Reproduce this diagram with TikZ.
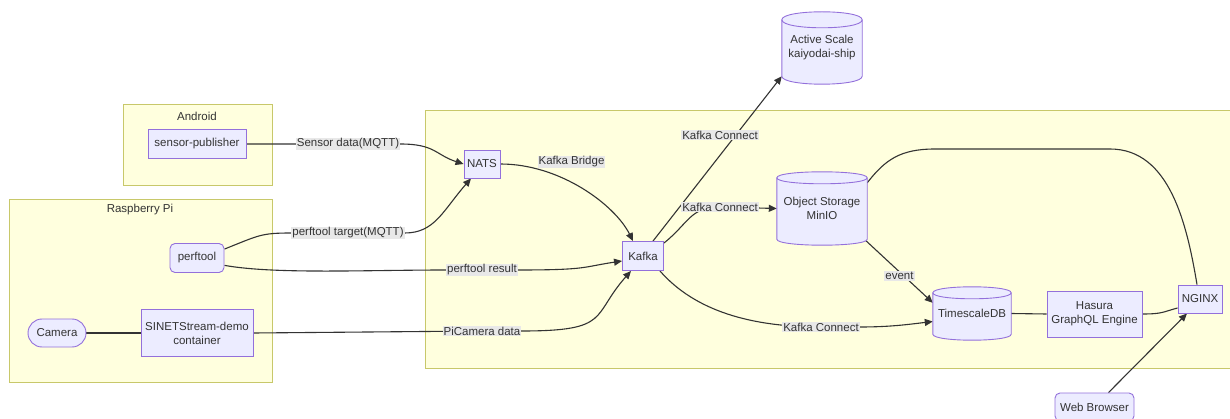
\documentclass[tikz,border=0pt]{standalone}
\usepackage{fontspec}
\setmainfont{Liberation Sans}
\usetikzlibrary{arrows.meta,calc}
\definecolor{nodefill}{HTML}{ECECFF}
\definecolor{nodeline}{HTML}{9370DB}
\definecolor{clfill}{HTML}{FFFFDE}
\definecolor{clline}{HTML}{C8C86A}
\definecolor{edgecol}{HTML}{333333}
\definecolor{lblbg}{HTML}{E8E8E8}
\definecolor{txt}{HTML}{333333}
\pgfdeclarelayer{bg}\pgfdeclarelayer{edges}\pgfdeclarelayer{cyl}
\pgfsetlayers{bg,edges,cyl,main}
\newcommand\cylshape[2]{%
  \path[cylbody] ($(#1.north west)+(0,#2)$) -- ($(#1.south west)+(0,-#2)$)
    .. controls +(0,{1.333*#2}) and +(0,{1.333*#2}) .. ($(#1.south east)+(0,-#2)$)
    -- ($(#1.north east)+(0,#2)$)
    .. controls +(0,{-1.333*#2}) and +(0,{-1.333*#2}) .. ($(#1.north west)+(0,#2)$) -- cycle;
  \path[cylline] ($(#1.north west)+(0,#2)$)
    .. controls +(0,{1.333*#2}) and +(0,{1.333*#2}) .. ($(#1.north east)+(0,#2)$);
}
\begin{document}
\begin{tikzpicture}[x=1pt,y=-1pt,
  every node/.style={font=\fontsize{11.5}{14}\selectfont, text=txt},
  box/.style={draw=nodeline, fill=nodefill, line width=0.9pt, inner sep=2pt, align=center},
  rbox/.style={box, rounded corners=5pt},
  pill/.style={box, rounded corners=14pt},
  cylnode/.style={inner sep=0pt, align=center},
  cylbody/.style={draw=nodeline, fill=nodefill, line width=0.9pt},
  cylline/.style={draw=nodeline, line width=0.9pt},
  cluster/.style={draw=clline, fill=clfill, line width=0.9pt},
  lbl/.style={fill=lblbg, inner sep=1pt},
  arr/.style={draw=edgecol, line width=1.1pt, -{Triangle[length=8pt,width=7pt]}},
  link/.style={draw=edgecol, line width=1.1pt},
]
\useasboundingbox (0,0) rectangle (1230,419);
\begin{pgfonlayer}{bg}
\path[cluster] (123,104) rectangle (272,185);
\path[cluster] (9,199) rectangle (272,382);
\path[cluster] (425,110) rectangle (1236,368);
\end{pgfonlayer}
\node (tandroid) at (197,116) {Android};
\node (trpi) at (140,210) {Raspberry Pi};

\node[box, minimum width=98pt, minimum height=29pt] (sp) at (197,144) {sensor-publisher};
\node[rbox, minimum width=54pt, minimum height=29pt] (perf) at (197,258) {perftool};
\node[pill, minimum width=58pt, minimum height=28pt] (cam) at (57,333) {Camera};
\node[box, minimum width=112pt, minimum height=47pt] (sinet) at (197,333) {SINETStream-demo\\container};
\node[box, minimum width=36pt, minimum height=28pt] (nats) at (482,164) {NATS};
\node[box, minimum width=41pt, minimum height=29pt] (kafka) at (643,256) {Kafka};
\node[cylnode, minimum width=80pt, minimum height=72pt] (as) at (822,48) {Active Scale\\kaiyodai-ship};
\node[cylnode, minimum width=90pt, minimum height=73pt] (minio) at (822,208.5) {Object Storage\\MinIO};
\node[cylnode, minimum width=78pt, minimum height=53pt] (tsdb) at (972,313.5) {TimescaleDB};
\node[box, minimum width=95pt, minimum height=46pt] (hasura) at (1094.5,314) {Hasura\\GraphQL Engine};
\node[box, minimum width=44pt, minimum height=28pt] (nginx) at (1200,299) {NGINX};
\node[rbox, minimum width=79pt, minimum height=28pt] (web) at (1094.5,407) {Web Browser};

\node[lbl] (l1) at (348,144) {Sensor data(MQTT)};
\node[lbl] (l2) at (348,233) {perftool target(MQTT)};
\node[lbl] (l3) at (482,270) {perftool result};
\node[lbl] (l4) at (482,331) {PiCamera data};
\node[lbl] (l5) at (571.5,162) {Kafka Bridge};
\node[lbl] (l6) at (720,135) {Kafka Connect};
\node[lbl] (l7) at (720,207) {Kafka Connect};
\node[lbl] (l8) at (821,327) {Kafka Connect};
\node[lbl] (l9) at (899.5,276) {event};

\begin{pgfonlayer}{cyl}
\cylshape{as}{8}
\cylshape{minio}{6}
\cylshape{tsdb}{6}
\end{pgfonlayer}

\begin{pgfonlayer}{edges}
\path[arr] (sp.east) -- (l1.center) -- (l1.east) .. controls +(35,0) and +(-28,-9) .. (nats.west);
\path[arr] (perf.18) .. controls +(35,-14) and +(-30,0) .. (l2.west) -- (l2.east) .. controls +(30,0) and +(-28,32) .. ([xshift=-11pt]nats.south);
\path[arr] (perf.-15) .. controls +(50,9) and +(-80,0) .. (l3.west) -- (l3.east) .. controls +(70,0) and +(-40,6) .. ([yshift=-5pt]kafka.west);
\path[arr] (sinet.east) -- (l4.center) -- (l4.east) .. controls +(90,0) and +(-40,45) .. ([xshift=-12pt]kafka.south);
\path[link] (cam.east) -- (sinet.west);
\path[arr] (nats.east) .. controls +(60,0) and +(-18,-36) .. ([xshift=-10pt]kafka.north);
\path[arr] ([xshift=10pt]kafka.north) -- ([yshift=8pt]as.south west);
\path[arr] ([yshift=-2pt]kafka.north east) .. controls +(25,-20) and +(-30,0) .. (l7.center) -- (minio.west);
\path[arr] ([xshift=-4pt]kafka.south east) .. controls +(35,40) and +(-70,0) .. (l8.center) -- (l8.east) .. controls +(30,0) and +(-25,3) .. ([yshift=-8pt]tsdb.west);
\path[arr] ([shift={(-4pt,7pt)}]minio.south east) -- ([yshift=-16pt]tsdb.north west);
\path[link] (tsdb.east) -- (hasura.west);
\path[link] (hasura.east) .. controls +(20,0) and +(-15,4) .. ([yshift=-9pt]nginx.west);
\path[link] ([yshift=-11pt]minio.north east) .. controls (885,160) and (900,149) .. (935,149) -- (1110,149) .. controls (1170,149) and (1187,225) .. ([xshift=-3pt]nginx.north);
\path[arr] ([xshift=14pt]web.north) -- ([xshift=-13pt]nginx.south);
\end{pgfonlayer}
\end{tikzpicture}
\end{document}
